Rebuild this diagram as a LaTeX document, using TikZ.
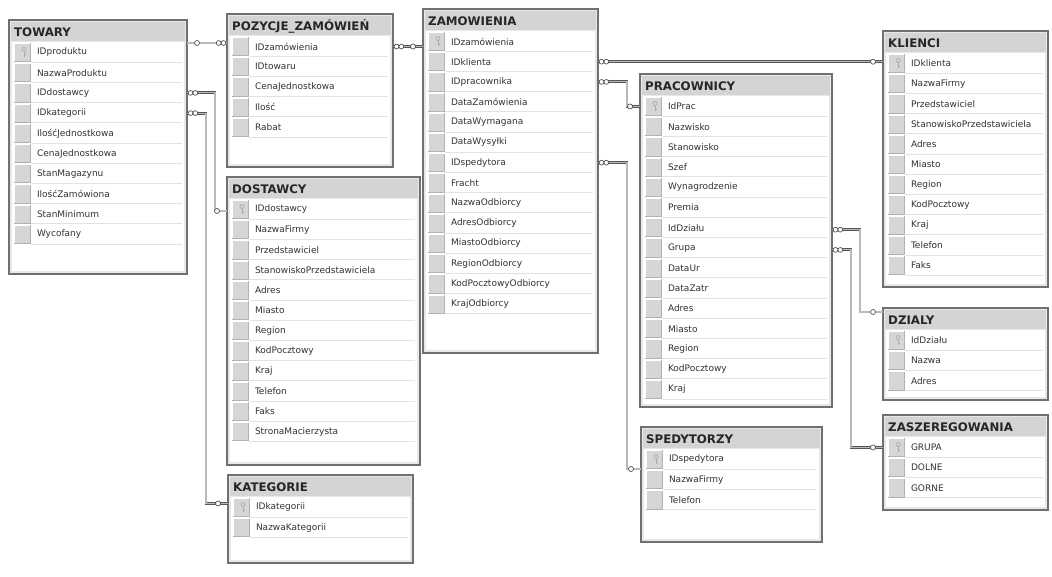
\documentclass[tikz,border=0pt]{standalone}
\usepackage{fontspec}
\setmainfont{DejaVu Sans}
\usetikzlibrary{calc}
\definecolor{bord}{RGB}{112,112,112}
\definecolor{strip}{RGB}{232,232,232}
\definecolor{headg}{RGB}{212,212,212}
\definecolor{keyg}{RGB}{214,214,214}
\definecolor{sepg}{RGB}{226,226,226}
\definecolor{txtg}{RGB}{50,50,50}
\definecolor{lineg}{RGB}{85,85,85}
\definecolor{inner}{RGB}{185,185,185}
\tikzset{
 tabframe/.style={draw=bord, line width=1.5pt, fill=strip, inner sep=0pt, outer sep=0pt},
 headtxt/.style={font=\fontsize{11.8}{13}\selectfont\bfseries, text=black!85, inner sep=0pt},
 rowtxt/.style={font=\fontsize{9}{10}\selectfont, text=txtg, inner xsep=6pt, inner ysep=0pt, align=left, outer sep=0pt},
 sepline/.style={draw=sepg, line width=0.6pt},
 conn/.style={draw=lineg, double=inner, double distance=1.1pt, line width=0.9pt},
 endc/.style={draw=lineg, fill=white, line width=0.7pt},
 keyicon/.style={draw=gray!65, line width=0.7pt},
}
% name, x0, y0, x1, y1, title, rows
\newcommand\dbtab[7]{%
 \node[tabframe, anchor=north west, minimum width={#4-#2}, minimum height={#5-#3}] (#1) at (#2,#3) {};
 \fill[headg] ($(#1.north west)+(2,2)$) rectangle ($(#1.north east)+(-2,21)$);
 \fill[white] ($(#1.north west)+(3,22)$) rectangle ($(#1.south east)+(-3,-3)$);
 \node[headtxt, anchor=west] (#1-h) at ($(#1.north west)+(5,12)$) {#6};
 \foreach \rowname [count=\ri] in {#7} {
  \pgfmathsetmacro\cy{#3+32.5+20.2*(\ri-1)}
  \fill[keyg] (#2+5,\cy-9.5) rectangle (#2+22,\cy+9.5);
  \draw[white, line width=0.8pt] (#2+5.4,\cy+9.3) |- (#2+21.6,\cy-9.1);
  \draw[gray!60, line width=0.8pt] (#2+5.4,\cy+9.1) -| (#2+21.6,\cy-9.1);
  \node[rowtxt, anchor=west, minimum width={#4-#2-27}, text width={#4-#2-27-12}, minimum height=19] (#1-\ri) at (#2+22,\cy) {\rowname};
  \draw[sepline] (#1-\ri.south west) -- (#1-\ri.south east);
 }
}
\newcommand\keyat[1]{%
 \draw[keyicon] ($(#1-1.west)+(-7,-3)$) circle (2);
 \draw[keyicon] ($(#1-1.west)+(-7,-1)$) -- ++(0,5.5) ($(#1-1.west)+(-7,3)$) -- ++(1.5,0);
}
\newcommand\many[2]{%
 \draw[endc] ($(#1)+(#2*3.5,0)$) circle (2.4);
 \draw[endc] ($(#1)+(#2*8.3,0)$) circle (2.4);
}
\newcommand\one[2]{%
 \draw[endc] ($(#1)+(#2*10,0)$) circle (2.5);
}
\begin{document}
\begin{tikzpicture}[x=1pt,y=-1pt]
\useasboundingbox (0,0) rectangle (1052,576);
\fill[white] (0,0) rectangle (1052,576);

\dbtab{tow}{9}{20}{187}{274}{TOWARY}{IDproduktu,NazwaProduktu,IDdostawcy,IDkategorii,IlośćJednostkowa,CenaJednostkowa,StanMagazynu,IlośćZamówiona,StanMinimum,Wycofany}
\dbtab{poz}{227}{14}{393}{167}{POZYCJE\_ZAMÓWIEŃ}{IDzamówienia,IDtowaru,CenaJednostkowa,Ilość,Rabat}
\dbtab{dos}{227}{177}{420}{465}{DOSTAWCY}{IDdostawcy,NazwaFirmy,Przedstawiciel,StanowiskoPrzedstawiciela,Adres,Miasto,Region,KodPocztowy,Kraj,Telefon,Faks,StronaMacierzysta}
\dbtab{kat}{228}{475}{413}{563}{KATEGORIE}{IDkategorii,NazwaKategorii}
\dbtab{zam}{423}{9}{598}{353}{ZAMOWIENIA}{IDzamówienia,IDklienta,IDpracownika,DataZamówienia,DataWymagana,DataWysyłki,IDspedytora,Fracht,NazwaOdbiorcy,AdresOdbiorcy,MiastoOdbiorcy,RegionOdbiorcy,KodPocztowyOdbiorcy,KrajOdbiorcy}
\dbtab{pra}{640}{74}{832}{407}{PRACOWNICY}{IdPrac,Nazwisko,Stanowisko,Szef,Wynagrodzenie,Premia,IdDziału,Grupa,DataUr,DataZatr,Adres,Miasto,Region,KodPocztowy,Kraj}
\dbtab{spe}{641}{427}{822}{542}{SPEDYTORZY}{IDspedytora,NazwaFirmy,Telefon}
\dbtab{kli}{883}{31}{1048}{287}{KLIENCI}{IDklienta,NazwaFirmy,Przedstawiciel,StanowiskoPrzedstawiciela,Adres,Miasto,Region,KodPocztowy,Kraj,Telefon,Faks}
\dbtab{dzi}{883}{308}{1048}{400}{DZIALY}{IdDziału,Nazwa,Adres}
\dbtab{zas}{883}{415}{1048}{510}{ZASZEREGOWANIA}{GRUPA,DOLNE,GORNE}

\keyat{tow}\keyat{dos}\keyat{kat}\keyat{zam}\keyat{pra}\keyat{spe}\keyat{kli}\keyat{dzi}\keyat{zas}

% connectors
\coordinate (c1s) at (tow-1.north -| tow.east);
\coordinate (c1e) at (tow-1.north -| poz.west);
\draw[conn] (c1s) -- (c1e);
\one{c1s}{1}\many{c1e}{-1}

\coordinate (c2s) at (poz-1 -| poz.east);
\coordinate (c2e) at (poz-1 -| zam.west);
\draw[conn] (c2s) -- (c2e);
\many{c2s}{1}\one{c2e}{-1}

\coordinate (c3s) at (tow-3 -| tow.east);
\coordinate (c3e) at ($(dos-1 -| dos.west)+(0,1.5)$);
\draw[conn] (c3s) -- ++(28,0) |- (c3e);
\many{c3s}{1}\one{c3e}{-1}

\coordinate (c4s) at (tow-4 -| tow.east);
\coordinate (c4e) at ($(kat-1 -| kat.west)+(0,-4)$);
\draw[conn] (c4s) -- ++(19,0) |- (c4e);
\many{c4s}{1}\one{c4e}{-1}

\coordinate (c5s) at (zam-2 -| zam.east);
\coordinate (c5e) at (zam-2 -| kli.west);
\draw[conn] (c5s) -- (c5e);
\many{c5s}{1}\one{c5e}{-1}

\coordinate (c6s) at (zam-3 -| zam.east);
\coordinate (c6e) at (pra-1 -| pra.west);
\draw[conn] (c6s) -- ++(29,0) |- (c6e);
\many{c6s}{1}\one{c6e}{-1}

\coordinate (c7s) at (zam-7 -| zam.east);
\coordinate (c7e) at (spe-1.south -| spe.west);
\draw[conn] (c7s) -- ++(29,0) |- (c7e);
\many{c7s}{1}\one{c7e}{-1}

\coordinate (c8s) at ($(pra-7 -| pra.east)+(0,2)$);
\coordinate (c8e) at ($(dzi.north west)+(0,4)$);
\draw[conn] (c8s) -- ++(28,0) |- (c8e);
\many{c8s}{1}\one{c8e}{-1}

\coordinate (c9s) at ($(pra-8 -| pra.east)+(0,2)$);
\coordinate (c9e) at (zas-1 -| zas.west);
\draw[conn] (c9s) -- ++(19,0) |- (c9e);
\many{c9s}{1}\one{c9e}{-1}
\end{tikzpicture}
\end{document}
